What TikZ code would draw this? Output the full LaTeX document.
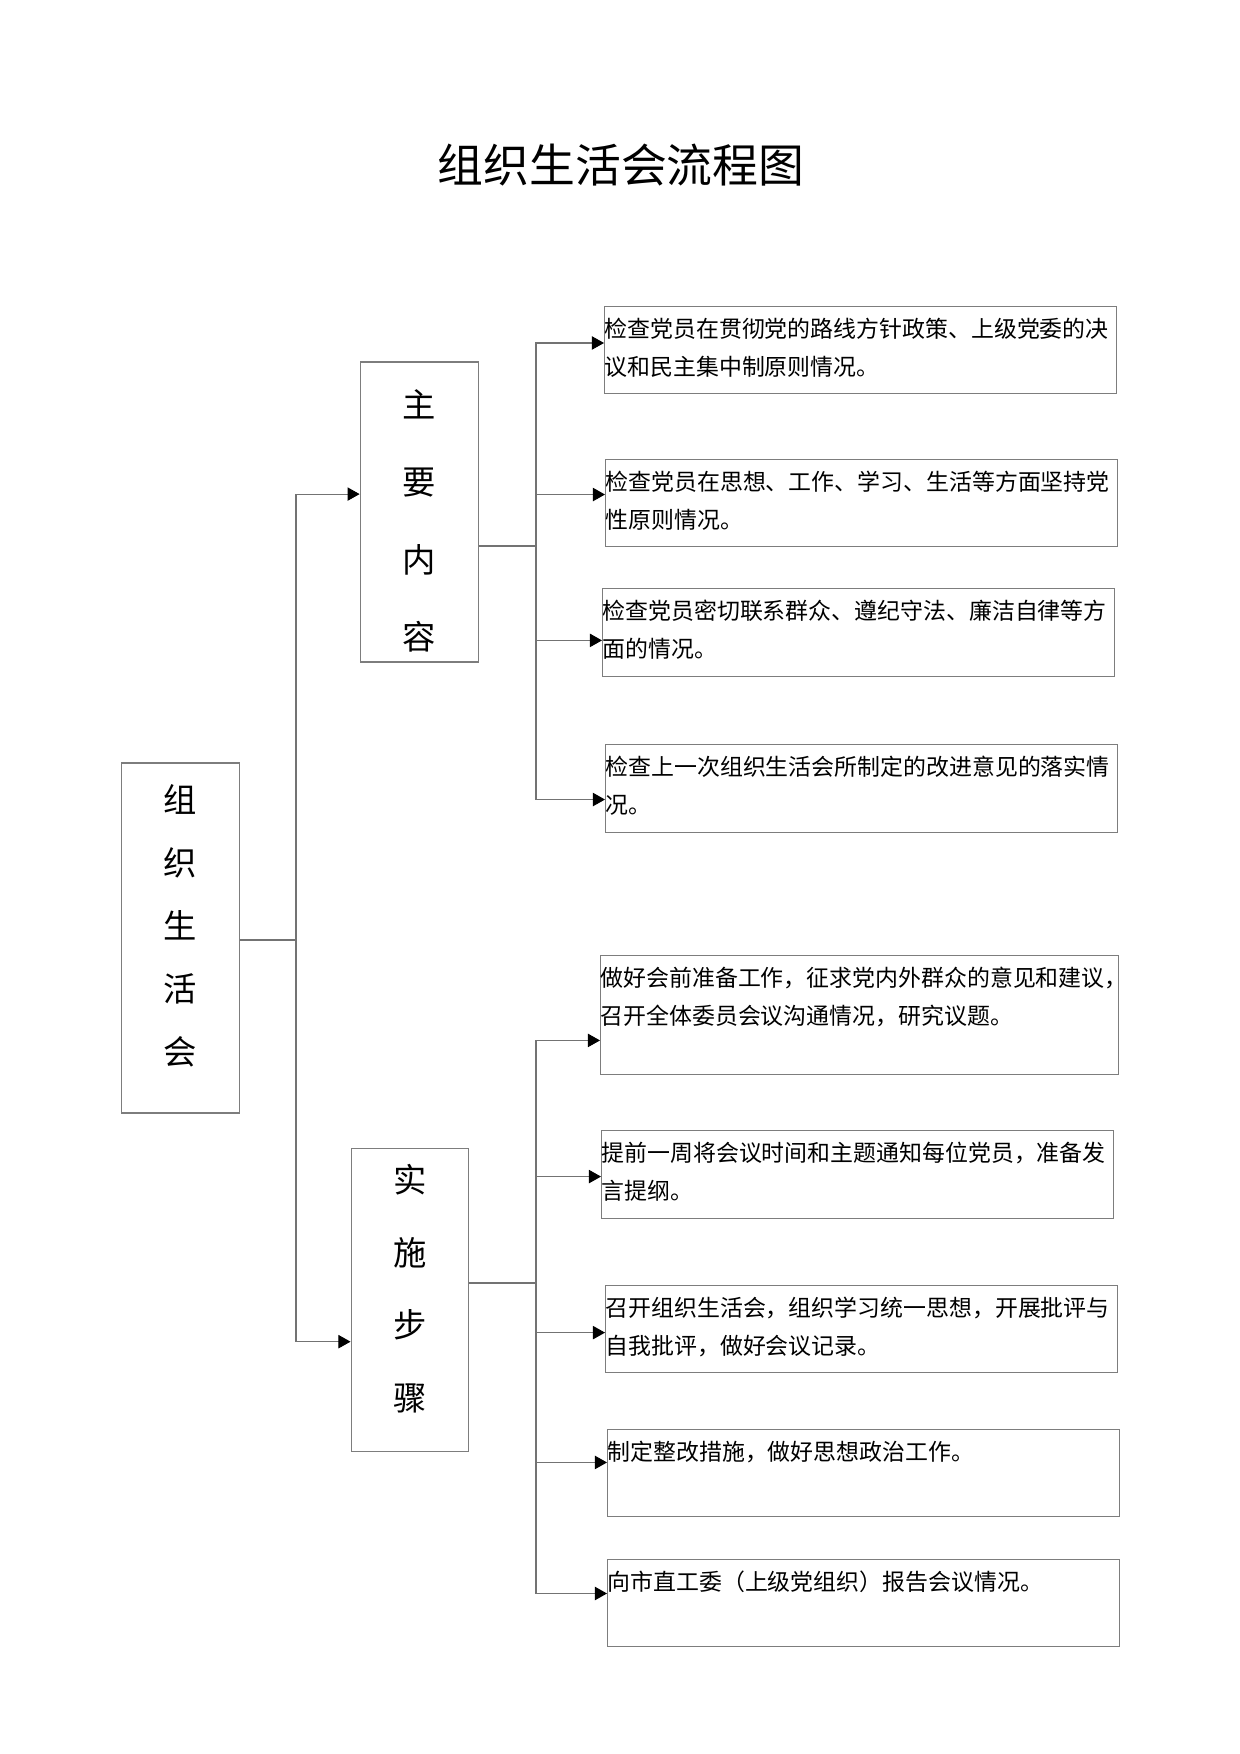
\documentclass[tikz,border=0pt]{standalone}
\usepackage{fontspec}
\setmainfont{Noto Sans CJK SC}
\usetikzlibrary{arrows.meta}
\definecolor{boxgray}{RGB}{125,125,125}
\definecolor{linegray}{RGB}{115,115,115}
\newcommand{\itemtext}[3][245.8pt]{\parbox[t][#2][t]{#1}{\fontsize{11pt}{18.2pt}\selectfont\vspace*{5.5pt}#3}}

\begin{document}
\begin{tikzpicture}[x=0.48pt,y=-0.48pt,
                    stage/.style={draw=boxgray,line width=0.5pt,align=center,inner sep=0pt},
                    detail/.style={draw=boxgray,line width=0.5pt,inner sep=0pt,anchor=north west},
                    joinline/.style={draw=linegray,line width=0.5pt},
                    joinarrow/.style={joinline,-{Triangle[length=5.8pt,width=6.4pt,color=black]}}]
 \useasboundingbox (0,0) rectangle (1240,1754);
 \node[font=\fontsize{22pt}{26pt}\selectfont] (title) at (621,165) {组织生活会流程图};

 \node[stage,minimum width=57pt,minimum height=168pt,
       font=\fontsize{16pt}{30.2pt}\selectfont] (org) at (180.5,938)
      {组\\织\\生\\活\\会\rule[-12.9pt]{0pt}{12.9pt}};
 \node[stage,minimum width=57pt,minimum height=144pt,
       font=\fontsize{16pt}{37.2pt}\selectfont] (content) at (419.5,512)
      {\rule{0pt}{21.7pt}主\\要\\内\\容};
 \node[stage,minimum width=56.6pt,minimum height=145pt,
       font=\fontsize{16pt}{35pt}\selectfont] (steps) at (410,1300)
      {实\\施\\步\\骤\rule[-12.1pt]{0pt}{12.1pt}};

 \node[detail] (c1) at (604,306) {\itemtext{41.8pt}{检查党员在贯彻党的路线方针政策、上级党委的决\\议和民主集中制原则情况。}};
 \node[detail] (c2) at (605,459) {\itemtext{41.8pt}{检查党员在思想、工作、学习、生活等方面坚持党\\性原则情况。}};
 \node[detail] (c3) at (602,588) {\itemtext{42.2pt}{检查党员密切联系群众、遵纪守法、廉洁自律等方\\面的情况。}};
 \node[detail] (c4) at (605,744) {\itemtext{42.2pt}{检查上一次组织生活会所制定的改进意见的落实情\\况。}};

 \node[detail] (s1) at (600,955) {\itemtext[248.6pt]{57.1pt}{做好会前准备工作，征求党内外群众的意见和建议，\\召开全体委员会议沟通情况，研究议题。}};
 \node[detail] (s2) at (601,1130) {\itemtext{42.2pt}{提前一周将会议时间和主题通知每位党员，准备发\\言提纲。}};
 \node[detail] (s3) at (605,1285) {\itemtext{41.8pt}{召开组织生活会，组织学习统一思想，开展批评与\\自我批评，做好会议记录。}};
 \node[detail] (s4) at (607,1429) {\itemtext{41.8pt}{制定整改措施，做好思想政治工作。}};
 \node[detail] (s5) at (607,1559) {\itemtext{41.8pt}{向市直工委（上级党组织）报告会议情况。}};

 \coordinate (trunk) at (296,940);
 \coordinate (upper) at (536,546);
 \coordinate (lower) at (536,1283);

 \draw[joinline] (org.east |- trunk) -- (trunk);
 \draw[joinarrow] (trunk) |- ([yshift=8.6pt]content.west);
 \draw[joinarrow] (trunk) |- ([yshift=-20pt]steps.west);

 \draw[joinline] (content.east |- upper) -- (upper);
 \draw[joinarrow] (upper) |- ([yshift=3.4pt]c1.west);
 \draw[joinarrow] (upper) |- ([yshift=4.1pt]c2.west);
 \draw[joinarrow] (upper) |- ([yshift=-3.8pt]c3.west);
 \draw[joinarrow] (upper) |- ([yshift=-5.3pt]c4.west);

 \draw[joinline] (steps.east |- lower) -- (lower);
 \draw[joinarrow] (lower) |- ([yshift=-12.2pt]s1.west);
 \draw[joinarrow] (lower) |- ([yshift=-1pt]s2.west);
 \draw[joinarrow] (lower) |- ([yshift=-1.7pt]s3.west);
 \draw[joinarrow] (lower) |- ([yshift=5.1pt]s4.west);
 \draw[joinarrow] (lower) |- ([yshift=4.6pt]s5.west);
\end{tikzpicture}
\end{document}
